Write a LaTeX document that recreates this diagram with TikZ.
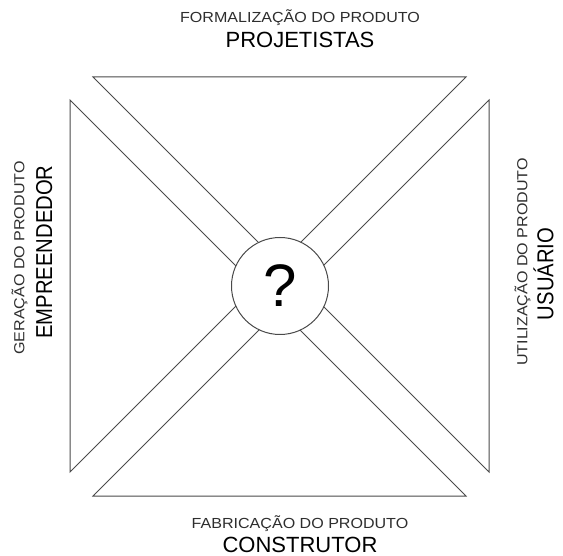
\documentclass[tikz,border=0pt]{standalone}
\usepackage{fontspec}
\usepackage{tikz}
\usetikzlibrary{positioning}
\setmainfont{Liberation Sans}
\newfontfamily\phasefont[FakeStretch=1.1]{Liberation Sans}
\newfontfamily\sidefont[FakeStretch=0.88]{Liberation Sans}
\definecolor{edgegray}{HTML}{4A4A4A}
\definecolor{labelgray}{HTML}{2E2E2E}

\begin{document}
\begin{tikzpicture}[
  x=1pt,y=-1pt,
  wedge/.style={draw=edgegray,line width=1pt},
  hub/.style={circle,draw=edgegray,fill=white,line width=1pt,minimum size=97pt,inner sep=0pt,font=\fontsize{60}{60}\selectfont},
  phase/.style={inner sep=0pt,text height=10.5pt,text depth=0pt,text=labelgray,font=\phasefont\fontsize{14.6}{16}\selectfont},
  role/.style={inner sep=0pt,text height=16pt,text depth=0pt,text=black,font=\fontsize{22}{24}\selectfont},
  siderole/.style={inner sep=0pt,text height=16.5pt,text depth=0pt,text=black,rotate=90,font=\sidefont\fontsize{23}{25}\selectfont}
]
\fill[white] (0,0) rectangle (563,556);
\useasboundingbox (0,0) rectangle (563,556);

% four wedges
\draw[wedge] (93,77) -- (466,77) -- (279.5,263.5) -- cycle;
\draw[wedge] (93,496) -- (466,496) -- (279.5,309.5) -- cycle;
\draw[wedge] (70,100) -- (70,472) -- (256,286) -- cycle;
\draw[wedge] (489,100) -- (489,472) -- (303,286) -- cycle;

\node[hub] (q) at (280,286) {?};

% labels
\node[phase] (topphase) at (300,17) {FORMALIZAÇÃO DO PRODUTO};
\node[role] (toprole) at (300,40) {PROJETISTAS};
\node[phase] (botphase) at (300,523) {FABRICAÇÃO DO PRODUTO};
\node[role] (botrole) at (300,544) {CONSTRUTOR};
\node[phase,rotate=90] (leftphase) at (19,258) {GERAÇÃO DO PRODUTO};
\node[siderole] (leftrole) at (44,252) {EMPREENDEDOR};
\node[phase,rotate=90] (rightphase) at (522,262) {UTILIZAÇÃO DO PRODUTO};
\node[siderole] (rightrole) at (545,274) {USUÁRIO};
\end{tikzpicture}
\end{document}
